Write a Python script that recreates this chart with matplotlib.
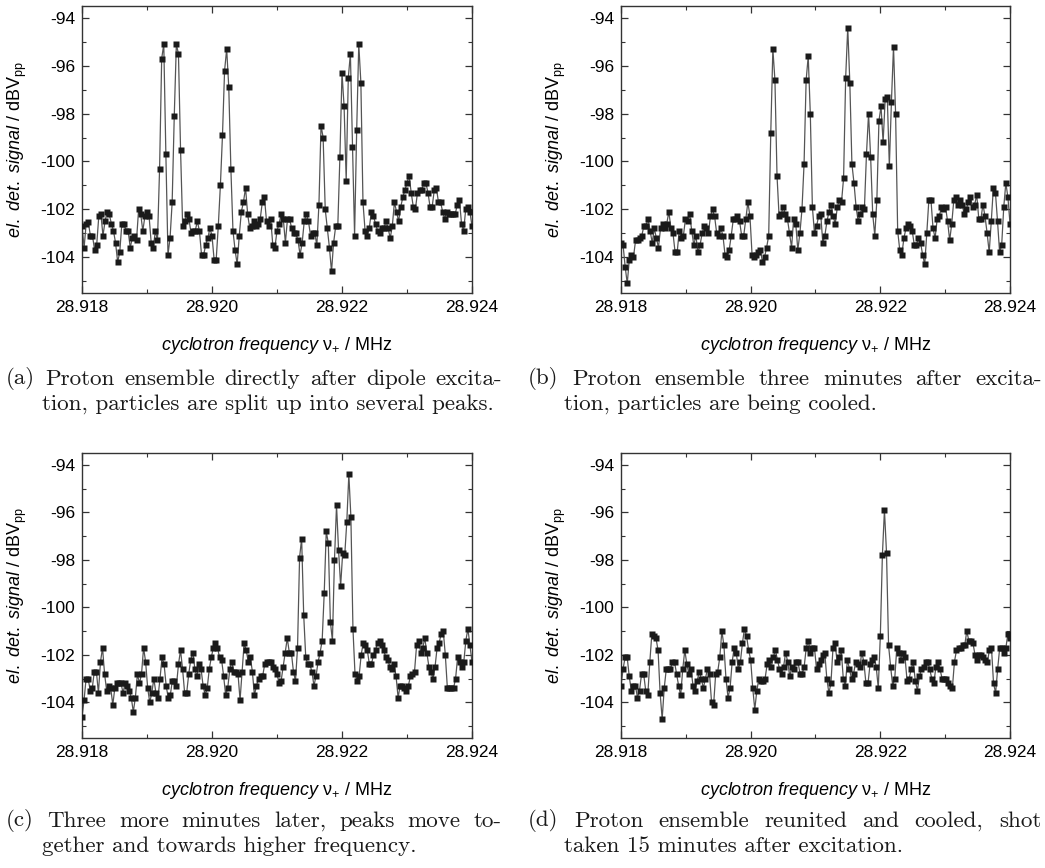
import matplotlib; matplotlib.use("Agg")
import matplotlib.pyplot as plt
from matplotlib.ticker import MultipleLocator, FormatStrFormatter
import numpy as np

plt.rcParams.update({
    "font.family": "Liberation Sans",
    "mathtext.fontset": "custom",
    "mathtext.rm": "Liberation Sans",
    "mathtext.it": "Liberation Sans:italic",
    "axes.unicode_minus": False,
})

W, H = 1045, 868
F_START, F_STOP = 28.918, 28.924

sig_a = [-102.7, -103.6, -102.6, -102.55, -103.1, -103.1, -103.7, -103.5, -102.3, -102.2, -103.1, -102.5,
         -102.1, -102.2, -102.6, -102.9, -103.4, -104.2, -103.8, -102.6, -102.6, -102.9, -102.9, -103.6,
         -103.2, -103.1, -103.3, -102.0, -102.2, -102.9, -102.3, -102.1, -102.3, -103.4, -103.6, -102.9,
         -103.3, -100.3, -95.7, -95.1, -99.7, -103.9, -103.2, -101.7, -98.1, -95.1, -95.5, -99.5, -102.7,
         -102.5, -102.2, -102.4, -103.0, -102.9, -102.9, -102.5, -102.9, -103.9, -103.9, -103.5, -103.2,
         -102.8, -103.1, -104.1, -104.1, -102.7, -101.0, -98.9, -96.2, -95.3, -96.9, -100.3, -102.9, -103.7,
         -104.3, -103.1, -102.1, -101.7, -101.1, -102.2, -102.8, -102.7, -102.5, -102.7, -102.6, -102.4,
         -101.7, -101.5, -102.5, -102.7, -102.4, -103.5, -103.6, -102.9, -102.6, -102.2, -102.4, -103.4,
         -102.4, -102.4, -102.8, -103.0, -103.0, -103.3, -103.9, -103.4, -102.5, -102.2, -102.5, -103.1,
         -103.0, -103.0, -103.5, -101.8, -98.5, -99.0, -102.0, -102.8, -103.6, -104.6, -103.4, -102.7,
         -102.7, -99.8, -96.3, -97.7, -100.8, -96.5, -95.5, -99.4, -103.1, -98.7, -95.1, -96.7, -101.7,
         -102.9, -103.1, -102.8, -102.1, -102.3, -102.6, -102.9, -103.0, -102.8, -102.8, -102.5, -102.8,
         -103.2, -102.7, -101.7, -102.1, -102.5, -101.9, -101.5, -101.2, -100.9, -100.6, -101.3, -101.9,
         -102.0, -101.3, -101.2, -101.2, -100.9, -100.9, -101.3, -101.9, -101.9, -101.2, -101.1, -101.7,
         -101.7, -102.1, -102.4, -102.1, -102.2, -102.2, -102.2, -102.2, -101.8, -101.6, -102.6, -102.9,
         -102.0, -101.9, -102.1, -102.7]

sig_b = [-103.4, -103.5, -104.4, -105.1, -104.1, -103.9, -104.0, -103.3, -103.3, -103.2, -103.1, -102.7,
         -102.7, -102.4, -102.9, -103.4, -102.8, -103.2, -103.6, -102.8, -102.6, -102.8, -102.6, -102.1,
         -102.8, -103.0, -103.8, -103.8, -102.9, -103.2, -103.1, -102.4, -102.5, -102.2, -102.9, -103.5,
         -103.1, -103.8, -103.5, -103.0, -102.7, -102.8, -103.0, -102.3, -102.0, -102.3, -103.0, -103.1,
         -102.8, -103.1, -103.9, -104.0, -103.7, -103.1, -102.4, -102.4, -102.3, -102.5, -103.1, -103.1,
         -102.4, -101.7, -102.3, -103.9, -104.0, -103.9, -103.8, -103.7, -104.2, -104.0, -103.6, -103.1,
         -98.8, -95.3, -96.6, -100.6, -102.3, -102.2, -101.9, -102.2, -102.4, -103.0, -103.6, -102.4,
         -102.6, -103.7, -103.0, -102.0, -100.1, -96.6, -95.6, -98.0, -101.9, -103.0, -102.7, -102.3,
         -102.2, -103.4, -103.1, -102.5, -102.1, -101.8, -102.3, -102.6, -101.9, -101.6, -101.7, -100.7,
         -96.5, -94.4, -96.7, -100.1, -100.9, -101.9, -102.5, -102.2, -101.9, -102.0, -99.7, -98.0, -99.8,
         -102.2, -103.1, -101.6, -98.3, -97.7, -99.2, -97.4, -97.3, -100.2, -97.5, -95.2, -98.0, -102.9,
         -103.7, -103.9, -103.2, -102.8, -102.6, -102.7, -102.9, -103.5, -103.5, -103.2, -103.4, -103.9,
         -104.3, -103.0, -101.6, -101.6, -102.8, -103.2, -102.4, -102.3, -101.9, -102.0, -101.9, -102.5,
         -103.3, -102.6, -101.6, -101.5, -101.8, -101.6, -101.8, -102.2, -102.0, -101.7, -101.5, -101.9,
         -101.8, -101.4, -102.4, -102.4, -101.8, -102.3, -103.0, -103.8, -102.5, -101.1, -101.3, -102.5,
         -103.8, -103.5, -101.9, -100.9, -101.5, -102.6]

sig_c = [-104.6, -103.9, -103.0, -103.0, -103.5, -103.4, -102.7, -102.7, -103.6, -102.3, -101.7, -102.8,
         -103.5, -103.3, -103.4, -104.1, -103.4, -103.2, -103.2, -103.2, -103.6, -103.2, -103.3, -103.5,
         -103.8, -104.4, -103.8, -102.8, -103.2, -102.8, -101.7, -102.3, -103.4, -104.0, -103.6, -103.0,
         -103.6, -103.8, -103.0, -102.1, -102.4, -103.3, -103.8, -103.7, -103.1, -103.1, -103.3, -102.4,
         -101.8, -102.6, -103.6, -103.6, -102.8, -102.2, -101.9, -102.6, -102.9, -102.4, -102.6, -103.3,
         -103.7, -103.4, -102.6, -102.1, -101.7, -101.5, -101.7, -102.1, -102.2, -102.9, -103.7, -103.4,
         -102.6, -102.3, -102.7, -102.7, -102.8, -103.9, -102.7, -101.5, -101.8, -102.3, -102.1, -102.7,
         -103.7, -103.3, -103.0, -102.9, -102.9, -102.4, -102.3, -102.3, -102.3, -102.5, -102.6, -102.8,
         -103.2, -103.1, -102.5, -101.9, -101.3, -101.9, -101.9, -102.7, -103.1, -101.7, -97.9, -97.1,
         -100.3, -102.1, -102.4, -102.4, -102.7, -103.3, -102.9, -102.3, -101.9, -101.4, -99.4, -96.8,
         -97.3, -100.6, -101.4, -98.0, -95.7, -97.6, -99.1, -97.7, -97.8, -96.4, -94.4, -96.2, -100.9,
         -102.8, -103.1, -102.9, -102.0, -101.5, -101.6, -101.8, -102.4, -102.4, -102.0, -101.8, -101.5,
         -101.4, -101.6, -101.8, -102.1, -102.2, -102.5, -102.6, -102.4, -102.9, -103.8, -103.3, -103.3,
         -103.4, -103.5, -103.3, -102.9, -102.8, -102.7, -101.6, -101.4, -101.9, -101.7, -101.3, -101.9,
         -102.5, -102.7, -103.0, -102.5, -101.7, -101.5, -101.1, -101.0, -102.0, -103.4, -103.4, -103.4,
         -103.4, -103.0, -102.1, -102.3, -102.5, -102.3, -101.4, -100.9, -101.6, -102.3]

sig_d = [-103.3, -102.6, -102.1, -102.1, -102.9, -103.5, -103.3, -103.3, -103.8, -103.5, -102.8, -102.8,
         -103.5, -103.7, -102.3, -101.1, -101.2, -101.3, -101.8, -103.6, -104.7, -103.4, -102.6, -102.6,
         -102.6, -102.3, -102.3, -102.8, -103.3, -103.7, -102.6, -101.8, -102.4, -102.8, -102.6, -103.3,
         -103.5, -103.1, -102.7, -103.0, -103.4, -103.0, -102.6, -102.8, -104.0, -104.1, -102.8, -102.7,
         -102.1, -101.0, -101.6, -103.0, -103.8, -103.4, -102.3, -101.7, -101.9, -102.6, -102.3, -101.5,
         -100.9, -101.2, -101.8, -102.2, -103.4, -104.3, -103.5, -103.0, -103.1, -103.1, -103.0, -102.4,
         -102.2, -102.5, -102.1, -101.8, -102.2, -102.6, -102.8, -102.5, -101.9, -102.3, -102.9, -102.5,
         -102.6, -102.3, -102.3, -102.8, -102.8, -102.5, -101.7, -101.4, -101.9, -101.7, -101.7, -102.6,
         -102.4, -102.2, -102.0, -101.9, -103.0, -103.6, -103.2, -101.7, -101.5, -102.3, -102.1, -101.8,
         -103.0, -103.3, -102.2, -102.6, -103.0, -102.8, -102.3, -102.4, -102.5, -101.9, -102.3, -103.2,
         -103.2, -102.4, -102.2, -102.1, -102.5, -103.4, -101.2, -97.8, -95.9, -97.7, -101.6, -102.5,
         -103.3, -103.0, -101.7, -101.9, -102.2, -101.9, -102.1, -103.1, -103.0, -102.6, -102.3, -103.1,
         -103.5, -102.9, -102.6, -102.5, -102.3, -102.3, -102.6, -103.0, -103.2, -102.5, -102.3, -102.6,
         -103.0, -103.0, -103.0, -103.2, -103.3, -103.4, -102.3, -101.8, -101.7, -101.7, -101.6, -101.6,
         -101.0, -101.4, -101.4, -101.5, -102.0, -102.2, -102.0, -102.0, -102.1, -102.2, -102.3, -101.8,
         -101.7, -103.2, -103.6, -102.6, -101.7, -101.7, -101.9, -101.7, -101.1, -101.3]

captions = {
    "a": ["(a) Proton ensemble directly after dipole excita-",
          "tion, particles are split up into several peaks."],
    "b": ["(b) Proton ensemble three minutes after excita-",
          "tion, particles are being cooled."],
    "c": ["(c) Three more minutes later, peaks move to-",
          "gether and towards higher frequency."],
    "d": ["(d) Proton ensemble reunited and cooled, shot",
          "taken 15 minutes after excitation."],
}

XLABEL = r"$\mathit{cyclotron\ frequency}$ $\mathrm{\nu}_{+}$ / MHz"
YLABEL = r"$\mathit{el.\ det.\ signal}$ / dBV$_{\mathrm{pp}}$"

fig = plt.figure(figsize=(W / 100, H / 100), dpi=100)

# panel boxes in pixels: left, top, right, bottom
boxes = {"a": (82, 6, 472, 293), "b": (621, 6, 1010, 293),
         "c": (82, 453, 472, 738), "d": (621, 453, 1010, 738)}
series = {"a": sig_a, "b": sig_b, "c": sig_c, "d": sig_d}

for key, (l, t, r, b) in boxes.items():
    ax = fig.add_axes([l / W, 1 - b / H, (r - l) / W, (b - t) / H])
    y = np.array(series[key])
    f = np.linspace(F_START, F_STOP, len(y))
    ax.plot(f, y, "-", color="#555555", lw=0.9, zorder=2)
    ax.plot(f, y, "s", color="#1a1a1a", ms=4.0, mec="none", zorder=3)
    ax.set_xlim(F_START, F_STOP)
    ax.set_ylim(-105.5, -93.5)
    ax.set_xticks([28.918, 28.920, 28.922, 28.924])
    ax.xaxis.set_major_formatter(FormatStrFormatter("%.3f"))
    ax.xaxis.set_minor_locator(MultipleLocator(0.001))
    ax.yaxis.set_major_locator(MultipleLocator(2))
    ax.yaxis.set_minor_locator(MultipleLocator(1))
    ax.tick_params(which="both", direction="in", top=True, right=True, color="#333333")
    ax.tick_params(which="major", length=5, width=0.9, labelsize=12.5, pad=5)
    ax.tick_params(which="minor", length=3, width=0.8)
    for sp in ax.spines.values():
        sp.set_color("#333333"); sp.set_linewidth(1.0)
    ax.set_xlabel(XLABEL, fontsize=13)
    ax.set_ylabel(YLABEL, fontsize=13)
    ax.xaxis.set_label_coords(0.5, -0.146)
    ax.yaxis.set_label_coords(-0.135, 0.5)

# captions, first line justified like LaTeX
renderer = fig.canvas.get_renderer()
cap_style = dict(fontsize=16.6, family="cmr10", va="center", color="#1a1a1a")
cap_pos = {"a": (6, 502, 379), "b": (528, 1042, 379), "c": (6, 502, 821), "d": (528, 1041, 821)}
for key, (x0, x1, yc) in cap_pos.items():
    first, second = captions[key]
    words = first.split(" ")
    objs = [fig.text(0, 1 - yc / H, w, **cap_style) for w in words]
    widths = [o.get_window_extent(renderer).width for o in objs]
    gap = (x1 - x0 - sum(widths)) / (len(words) - 1)
    x = x0
    for o, w in zip(objs, widths):
        o.set_x(x / W); x += w + gap
    fig.text((x0 + 36) / W, 1 - (yc + 25) / H, second, **cap_style)

fig.savefig("out.png", dpi=100)
